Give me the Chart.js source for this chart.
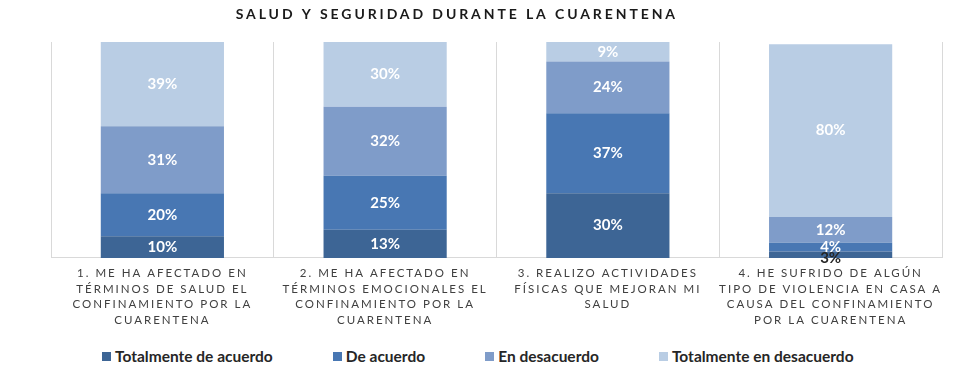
<!DOCTYPE html>
<html lang="es">
<head>
    <meta charset="UTF-8">
    <title>Salud y seguridad durante la cuarentena</title>
    <style>
        body {
            margin: 0;
            background: #ffffff;
            font-family: 'Lato', sans-serif;
        }
        .wrap {
            position: relative;
            width: 972px;
            height: 372px;
        }
        .chart-box {
            position: absolute;
            left: 0;
            top: 0;
            width: 972px;
            height: 338px;
        }
        #legend {
            position: absolute;
            left: 102px;
            top: 346px;
            height: 20px;
            display: flex;
            gap: 60px;
            align-items: center;
        }
        .legend-item {
            display: flex;
            align-items: center;
            font-weight: bold;
            font-size: 15.5px;
            color: #262626;
            white-space: nowrap;
        }
        .legend-item .sw {
            width: 9px;
            height: 9px;
            margin-right: 4px;
        }
    </style>
</head>
<body>
    <div class="wrap">
        <div class="chart-box">
            <canvas id="chart"></canvas>
        </div>
        <div id="legend"></div>
    </div>

    <script src="https://cdn.jsdelivr.net/npm/chart.js"></script>
    <script>
        const chartTitle = 'SALUD Y SEGURIDAD DURANTE LA CUARENTENA';

        // categorias (cada una partida en lineas como en el original)
        const categories = [
            ['1. ME HA AFECTADO EN', 'TÉRMINOS DE SALUD EL', 'CONFINAMIENTO POR LA', 'CUARENTENA'],
            ['2. ME HA AFECTADO EN', 'TÉRMINOS EMOCIONALES EL', 'CONFINAMIENTO POR LA', 'CUARENTENA'],
            ['3. REALIZO ACTIVIDADES', 'FÍSICAS QUE MEJORAN MI', 'SALUD'],
            ['4. HE SUFRIDO DE ALGÚN', 'TIPO DE VIOLENCIA EN CASA A', 'CAUSA DEL CONFINAMIENTO', 'POR LA CUARENTENA']
        ];

        const seriesNames = ['Totalmente de acuerdo', 'De acuerdo', 'En desacuerdo', 'Totalmente en desacuerdo'];

        // porcentajes
        const totalmenteDeAcuerdo = [10, 13, 30, 3];
        const deAcuerdo = [20, 25, 37, 4];
        const enDesacuerdo = [31, 32, 24, 12];
        const totalmenteEnDesacuerdo = [39, 30, 9, 80];

        const colors = ['#3d6595', '#4877b3', '#7f9cc9', '#b9cde4'];

        const allSeries = [totalmenteDeAcuerdo, deAcuerdo, enDesacuerdo, totalmenteEnDesacuerdo];

        // etiquetas de valor dentro de cada segmento
        const valueLabels = {
            id: 'valueLabels',
            afterDatasetsDraw(chart) {
                const ctx = chart.ctx;
                ctx.save();
                ctx.letterSpacing = '0px';
                ctx.font = 'bold 15px Lato';
                ctx.textAlign = 'center';
                ctx.textBaseline = 'middle';
                chart.data.datasets.forEach((ds, i) => {
                    const meta = chart.getDatasetMeta(i);
                    meta.data.forEach((bar, j) => {
                        const v = ds.data[j];
                        let y = (bar.y + bar.base) / 2;
                        if (v < 4) {
                            // muy pequeno: texto oscuro justo debajo
                            ctx.fillStyle = '#262626';
                            y += 3;
                        } else {
                            ctx.fillStyle = '#ffffff';
                        }
                        ctx.fillText(v + '%', bar.x, y);
                    });
                });
                ctx.restore();
            }
        };

        // espaciado de letras para etiquetas del eje + titulo (algo desplazado a la izquierda, como en el original)
        const spacing = {
            id: 'spacing',
            beforeDraw(chart) {
                chart.ctx.letterSpacing = '2px';
            },
            afterDraw(chart) {
                const ctx = chart.ctx;
                ctx.save();
                ctx.letterSpacing = '2.9px';
                ctx.font = 'bold 14px Lato';
                ctx.fillStyle = '#1a1a1a';
                ctx.textAlign = 'center';
                ctx.textBaseline = 'middle';
                ctx.fillText(chartTitle, chart.width * 0.47, 14);
                ctx.restore();
                ctx.letterSpacing = '0px';
            }
        };

        const chart = new Chart(document.getElementById('chart'), {
            type: 'bar',
            data: {
                labels: categories,
                datasets: allSeries.map((values, i) => ({
                    label: seriesNames[i],
                    data: values,
                    backgroundColor: colors[i],
                    borderWidth: 0,
                    categoryPercentage: 1,
                    barPercentage: 0.553
                }))
            },
            options: {
                responsive: true,
                maintainAspectRatio: false,
                animation: false,
                layout: {
                    padding: { left: 51, right: 30, top: 42, bottom: 2 }
                },
                plugins: {
                    legend: { display: false },
                    tooltip: { enabled: false },
                    title: { display: false }
                },
                scales: {
                    x: {
                        stacked: true,
                        grid: {
                            offset: true,
                            color: '#d9d9d9',
                            lineWidth: 1,
                            drawTicks: false
                        },
                        border: { display: true, color: '#d9d9d9', width: 1 },
                        ticks: {
                            color: '#404040',
                            font: { family: 'Lato', size: 11.5, lineHeight: 1.35 },
                            padding: 8,
                            maxRotation: 0,
                            autoSkip: false
                        }
                    },
                    y: {
                        stacked: true,
                        display: false,
                        min: 0,
                        max: 100
                    }
                }
            },
            plugins: [valueLabels, spacing]
        });

        // leyenda en html, generada a partir de los datos del grafico
        const legendBox = document.getElementById('legend');
        Chart.defaults.plugins.legend.labels.generateLabels(chart).forEach(item => {
            const el = document.createElement('div');
            el.className = 'legend-item';
            el.innerHTML = `<span class="sw" style="background:${item.fillStyle}"></span><span>${item.text}</span>`;
            legendBox.appendChild(el);
        });
    </script>
</body>
</html>
